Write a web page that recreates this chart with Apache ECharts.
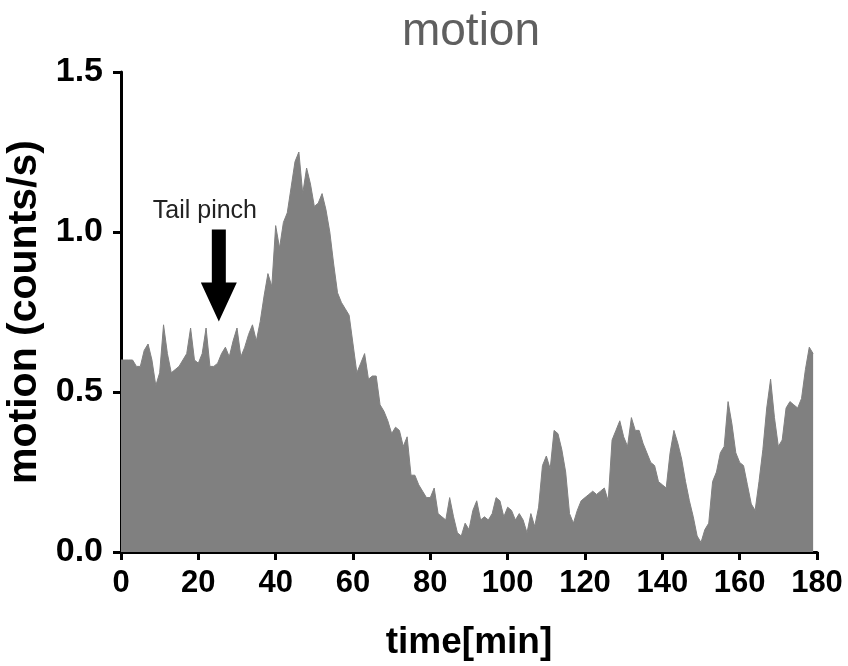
<!DOCTYPE html>
<html>
<head>
<meta charset="utf-8">
<script src="https://cdn.jsdelivr.net/npm/echarts@6/dist/echarts.min.js"></script>
<style>
    html, body { margin: 0; padding: 0; background: #fff; }
    #chart { width: 848px; height: 666px; }
</style>
</head>
<body>
<div id="chart"></div>
<script>
    // minute of recording
    const minutes = Array.from({length: 180}, (_, i) => i);
    // motion counts/s
    const motion = [
        0.60, 0.60, 0.60, 0.60, 0.58, 0.58, 0.63, 0.65, 0.60, 0.52,
        0.56, 0.71, 0.62, 0.56, 0.57, 0.58, 0.60, 0.62, 0.70, 0.60,
        0.59, 0.62, 0.70, 0.58, 0.58, 0.59, 0.62, 0.64, 0.61, 0.66,
        0.70, 0.61, 0.64, 0.68, 0.71, 0.66, 0.72, 0.80, 0.87, 0.83,
        1.02, 0.95, 1.03, 1.06, 1.14, 1.22, 1.25, 1.12, 1.20, 1.15,
        1.08, 1.09, 1.12, 1.07, 1.00, 0.90, 0.81, 0.78, 0.76, 0.74,
        0.65, 0.56, 0.59, 0.62, 0.54, 0.55, 0.55, 0.46, 0.44, 0.41,
        0.37, 0.39, 0.38, 0.33, 0.36, 0.24, 0.24, 0.21, 0.19, 0.17,
        0.17, 0.20, 0.12, 0.11, 0.10, 0.17, 0.11, 0.06, 0.05, 0.09,
        0.07, 0.13, 0.16, 0.10, 0.11, 0.10, 0.12, 0.17, 0.16, 0.11,
        0.14, 0.13, 0.10, 0.12, 0.10, 0.06, 0.12, 0.08, 0.14, 0.27,
        0.30, 0.26, 0.38, 0.37, 0.32, 0.25, 0.12, 0.09, 0.13, 0.16,
        0.17, 0.18, 0.19, 0.18, 0.19, 0.20, 0.16, 0.35, 0.38, 0.41,
        0.36, 0.33, 0.42, 0.38, 0.38, 0.34, 0.31, 0.28, 0.27, 0.22,
        0.21, 0.20, 0.31, 0.38, 0.34, 0.29, 0.22, 0.16, 0.11, 0.05,
        0.03, 0.07, 0.09, 0.22, 0.25, 0.31, 0.33, 0.47, 0.40, 0.31,
        0.28, 0.27, 0.21, 0.15, 0.13, 0.22, 0.32, 0.45, 0.54, 0.42,
        0.33, 0.35, 0.45, 0.47, 0.46, 0.45, 0.48, 0.57, 0.64, 0.62
    ];
    const xTicks = [0, 180, 20];
    const yTicks = [0, 1.5, 0.5];
    // annotation anchor: arrow tip (min, value) and label centre
    const pinchTip = [25.3, 0.72];
    const pinchLabel = [21.7, 1.066];

    const font = '"Liberation Sans", Arial, sans-serif';
    const axisCommon = {
        axisLine: { show: true, lineStyle: { color: '#000', width: 3 } },
        axisTick: { show: true, length: 8, lineStyle: { color: '#000', width: 3 } },
        splitLine: { show: false },
        nameTextStyle: { color: '#000', fontFamily: font, fontWeight: 'bold' }
    };

    const chart = echarts.init(document.getElementById('chart'));
    chart.setOption({
        animation: false,
        title: {
            text: 'motion',
            left: 466,
            top: 4,
            textAlign: 'center',
            textStyle: { color: '#5f5f5f', fontFamily: font, fontWeight: 'normal', fontSize: 46 }
        },
        grid: { left: 121, right: 31, top: 72, bottom: 114, containLabel: false, outerBoundsMode: 'none' },
        xAxis: {
            ...axisCommon,
            type: 'value',
            min: xTicks[0], max: xTicks[1], interval: xTicks[2],
            name: 'time[min]',
            nameLocation: 'middle',
            nameGap: 72,
            nameTextStyle: { ...axisCommon.nameTextStyle, fontSize: 37 },
            axisLabel: { color: '#000', fontFamily: font, fontWeight: 'bold', fontSize: 31, margin: 16 }
        },
        yAxis: {
            ...axisCommon,
            type: 'value',
            min: yTicks[0], max: yTicks[1], interval: yTicks[2],
            name: 'motion (counts/s)',
            nameLocation: 'middle',
            nameGap: 71,
            nameTextStyle: { ...axisCommon.nameTextStyle, fontSize: 41 },
            axisLabel: {
                color: '#000', fontFamily: font, fontWeight: 'bold', fontSize: 34, margin: 18,
                formatter: v => v.toFixed(1)
            }
        },
        series: [{
            type: 'line',
            data: minutes.map((m, i) => [m, motion[i]]),
            symbol: 'none',
            lineStyle: { color: '#808080', width: 1 },
            areaStyle: { color: '#808080', opacity: 1 },
            z: 1
        }]
    });

    // tail pinch arrow, placed through the axes
    const tip = chart.convertToPixel({gridIndex: 0}, pinchTip);
    const lab = chart.convertToPixel({gridIndex: 0}, pinchLabel);
    chart.setOption({
        graphic: [
            {
                type: 'text',
                x: lab[0], y: lab[1],
                style: {
                    text: 'Tail pinch', fill: '#222', fontFamily: font, fontSize: 25,
                    align: 'center', verticalAlign: 'middle'
                }
            },
            {
                type: 'polygon',
                shape: {
                    points: [
                        [tip[0] - 7, tip[1] - 92], [tip[0] + 7, tip[1] - 92],
                        [tip[0] + 7, tip[1] - 39], [tip[0] + 18, tip[1] - 39],
                        [tip[0], tip[1]],
                        [tip[0] - 18, tip[1] - 39], [tip[0] - 7, tip[1] - 39]
                    ]
                },
                style: { fill: '#000' }
            }
        ]
    });
</script>
</body>
</html>
